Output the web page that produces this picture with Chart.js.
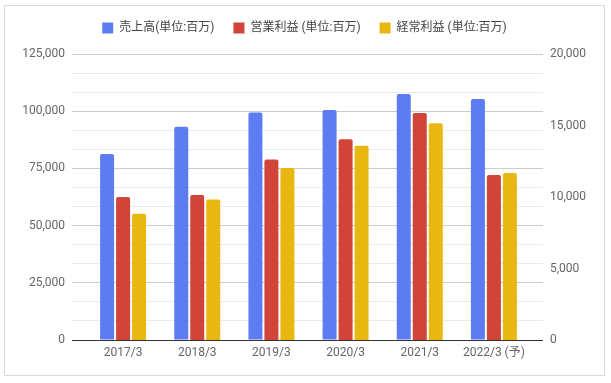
<!DOCTYPE html>
<html lang="ja">
<head>
<meta charset="UTF-8">
<title>売上高・利益推移</title>
<script src="https://cdn.jsdelivr.net/npm/chart.js@4"></script>
<style>
  body { margin: 0; background: #fff; }
  #box { position: absolute; left: 4px; top: 5px; width: 599px; height: 369px; border: 1px solid #d9d9d9; }
</style>
</head>
<body>
<div id="box"><canvas id="chart"></canvas></div>
<script>
const labels = ["2017/3", "2018/3", "2019/3", "2020/3", "2021/3", "2022/3 (予)"];
const sales = [81300, 93200, 99400, 100500, 107500, 105300];        // 売上高 (left axis)
const opProfit = [10000, 10140, 12630, 14040, 15870, 11540];        // 営業利益 (right axis)
const ordProfit = [8830, 9820, 12030, 13590, 15150, 11680];         // 経常利益 (right axis)
const leftMax = 125000, rightMax = 20000;

const font = "Roboto, 'Noto Sans CJK JP', sans-serif";

// 15 grid steps, labels on every third one
function gridTicks(scale) {
  const t = [];
  for (let i = 0; i <= 15; i++) t.push({ value: leftMax * i / 15 });
  scale.ticks = t;
}
function gridColor(ctx) {
  if (ctx.index === 0) return '#333';
  return ctx.index % 3 === 0 ? '#cccccc' : '#ebebeb';
}

// fixed legend height so the plot starts lower
const legendHeight = {
  id: 'legendHeight',
  beforeInit(chart) {
    const fit = chart.legend.fit;
    chart.legend.fit = function () {
      fit.call(this);
      this.height = 51;
    };
  }
};

new Chart(document.getElementById('chart'), {
  type: 'bar',
  data: {
    labels: labels,
    datasets: [
      { label: '売上高(単位:百万)', data: sales, yAxisID: 'y', backgroundColor: '#5e7cf1' },
      { label: '営業利益 (単位:百万)', data: opProfit, yAxisID: 'y1', backgroundColor: '#d14438' },
      { label: '経常利益 (単位:百万)', data: ordProfit, yAxisID: 'y1', backgroundColor: '#e8b711' }
    ]
  },
  plugins: [legendHeight],
  options: {
    responsive: true,
    maintainAspectRatio: false,
    animation: false,
    datasets: { bar: { categoryPercentage: 0.647, barPercentage: 0.875, borderRadius: 2, borderSkipped: 'bottom' } },
    layout: { padding: { top: -3, left: 0, right: 0, bottom: 0 } },
    plugins: {
      legend: {
        position: 'top',
        labels: { boxWidth: 11, boxHeight: 11, padding: 19, color: '#444', font: { family: font, size: 12 } }
      },
      tooltip: { enabled: false }
    },
    scales: {
      x: {
        afterFit: s => { s.height = 35; },
        grid: { display: false, drawTicks: false },
        border: { display: false },
        ticks: { color: '#666', font: { family: font, size: 12 }, padding: 6, maxRotation: 0 }
      },
      y: {
        position: 'left',
        min: 0, max: leftMax,
        afterBuildTicks: gridTicks,
        afterFit: s => { s.width = 81; },
        border: { display: false },
        grid: { color: gridColor, tickLength: 14 },
        ticks: {
          autoSkip: false, padding: 7, color: '#666', font: { family: font, size: 12 },
          callback: (v, i) => i % 3 === 0 ? Math.round(v).toLocaleString('en-US') : ''
        }
      },
      yg: {
        position: 'right',
        weight: 0,
        min: 0, max: leftMax,
        afterBuildTicks: gridTicks,
        afterFit: s => { s.width = 12; },
        border: { display: false },
        grid: { color: gridColor, tickLength: 12, drawOnChartArea: false },
        ticks: { display: false }
      },
      y1: {
        position: 'right',
        weight: 1,
        min: 0, max: rightMax,
        afterFit: s => { s.width = 61; },
        border: { display: false },
        grid: { display: false, drawTicks: false },
        ticks: { stepSize: 5000, padding: 7, color: '#666', font: { family: font, size: 12 } }
      }
    }
  }
});
</script>
</body>
</html>
